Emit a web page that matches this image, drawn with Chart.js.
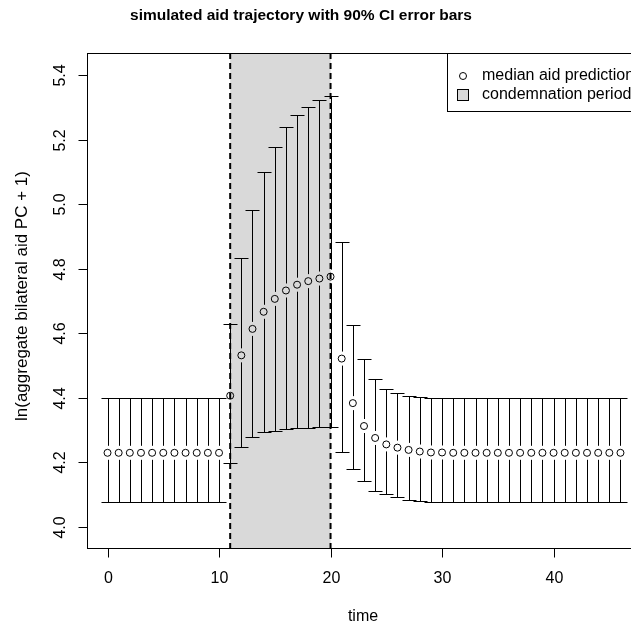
<!DOCTYPE html>
<html>
<head>
<meta charset="utf-8">
<script src="https://cdn.jsdelivr.net/npm/chart.js@4/dist/chart.umd.min.js"></script>
<style>
  html, body { margin: 0; padding: 0; background: #ffffff; overflow: hidden; }
  #wrap { width: 700px; height: 630px; }
</style>
</head>
<body>
<div id="wrap"><canvas id="c" width="700" height="630"></canvas></div>
<script>
// time steps 0..46
const timeSteps = [
  0, 1, 2, 3, 4, 5, 6, 7, 8, 9, 10,
  11, 12, 13, 14, 15, 16, 17, 18, 19, 20,
  21, 22, 23, 24, 25, 26, 27, 28, 29, 30,
  31, 32, 33, 34, 35, 36, 37, 38, 39, 40,
  41, 42, 43, 44, 45, 46
];

// median simulated aid, ln(aggregate bilateral aid PC + 1)
const medianAid = [
  4.230, 4.230, 4.230, 4.230, 4.230, 4.230, 4.230, 4.230, 4.230, 4.230, 4.230,
  4.407, 4.532, 4.614, 4.667, 4.707, 4.733, 4.751, 4.762, 4.770, 4.776,
  4.522, 4.384, 4.313, 4.276, 4.256, 4.246, 4.239, 4.234, 4.231, 4.231,
  4.230, 4.230, 4.230, 4.230, 4.230, 4.230, 4.230, 4.230, 4.230, 4.230,
  4.230, 4.230, 4.230, 4.230, 4.230, 4.230
];

// upper bound of the 90% interval
const upperCI = [
  4.399, 4.399, 4.399, 4.399, 4.399, 4.399, 4.399, 4.399, 4.399, 4.399, 4.399,
  4.629, 4.834, 4.983, 5.099, 5.178, 5.240, 5.277, 5.303, 5.322, 5.337,
  4.883, 4.625, 4.522, 4.460, 4.429, 4.414, 4.407, 4.403, 4.401, 4.399,
  4.399, 4.399, 4.399, 4.399, 4.399, 4.399, 4.399, 4.399, 4.399, 4.399,
  4.399, 4.399, 4.399, 4.399, 4.399, 4.399
];

// lower bound of the 90% interval
const lowerCI = [
  4.078, 4.078, 4.078, 4.078, 4.078, 4.078, 4.078, 4.078, 4.078, 4.078, 4.078,
  4.197, 4.249, 4.278, 4.293, 4.299, 4.303, 4.306, 4.308, 4.309, 4.311,
  4.234, 4.180, 4.143, 4.113, 4.101, 4.093, 4.085, 4.081, 4.079, 4.078,
  4.078, 4.078, 4.078, 4.078, 4.078, 4.078, 4.078, 4.078, 4.078, 4.078,
  4.078, 4.078, 4.078, 4.078, 4.078, 4.078
];

// condemnation period (start, end)
const condemnationPeriod = [11, 20];

const xTicks = [0, 10, 20, 30, 40];
const yTicks = [4.0, 4.2, 4.4, 4.6, 4.8, 5.0, 5.2, 5.4];

const titleText = 'simulated aid trajectory with 90% CI error bars';
const xTitle = 'time';
const yTitle = 'ln(aggregate bilateral aid PC + 1)';
const legendLabels = ['median aid prediction', 'condemnation period'];

const FONT = '"Liberation Sans", Arial, Helvetica, sans-serif';

const points = timeSteps.map((t, i) => ({ x: t, y: medianAid[i] }));

// shaded period and interval whiskers behind the points
const underlay = {
  id: 'underlay',
  beforeDatasetsDraw(chart) {
    const { ctx, chartArea: a, scales: { x, y } } = chart;
    ctx.save();
    ctx.beginPath();
    ctx.rect(a.left, a.top, a.right - a.left, a.bottom - a.top);
    ctx.clip();
    const x0 = x.getPixelForValue(condemnationPeriod[0]);
    const x1 = x.getPixelForValue(condemnationPeriod[1]);
    ctx.fillStyle = '#d9d9d9';
    ctx.fillRect(x0, a.top, x1 - x0, a.bottom - a.top);

    ctx.strokeStyle = '#000000';
    ctx.lineWidth = 1;
    const cap = 7, gap = 7;
    timeSteps.forEach((t, i) => {
      const px = Math.round(x.getPixelForValue(t)) + 0.5;
      const pm = y.getPixelForValue(medianAid[i]);
      const pu = Math.round(y.getPixelForValue(upperCI[i])) + 0.5;
      const pl = Math.round(y.getPixelForValue(lowerCI[i])) + 0.5;
      ctx.beginPath();
      ctx.moveTo(px, pm - gap); ctx.lineTo(px, pu);
      ctx.moveTo(px - cap, pu); ctx.lineTo(px + cap, pu);
      ctx.moveTo(px, pm + gap); ctx.lineTo(px, pl);
      ctx.moveTo(px - cap, pl); ctx.lineTo(px + cap, pl);
      ctx.stroke();
    });
    ctx.restore();
  }
};

// dashed period boundaries, frame, axes, titles and legend
const overlay = {
  id: 'overlay',
  afterDatasetsDraw(chart) {
    const { ctx, chartArea: a, scales: { x, y } } = chart;
    ctx.save();

    ctx.strokeStyle = '#000000';
    ctx.lineWidth = 2;
    ctx.setLineDash([6, 4]);
    condemnationPeriod.forEach(v => {
      const px = x.getPixelForValue(v);
      ctx.beginPath();
      ctx.moveTo(px, a.top);
      ctx.lineTo(px, a.bottom);
      ctx.stroke();
    });
    ctx.setLineDash([]);

    ctx.lineWidth = 1;
    const L = Math.round(a.left) + 0.5, R = Math.round(a.right) + 0.5;
    const T = Math.round(a.top) + 0.5, B = Math.round(a.bottom) + 0.5;
    ctx.strokeRect(L, T, R - L, B - T);

    ctx.fillStyle = '#000000';
    ctx.font = '16px ' + FONT;

    // x axis
    ctx.textAlign = 'center';
    ctx.textBaseline = 'middle';
    xTicks.forEach(v => {
      const px = Math.round(x.getPixelForValue(v)) + 0.5;
      ctx.beginPath();
      ctx.moveTo(px, B); ctx.lineTo(px, B + 9);
      ctx.stroke();
      ctx.fillText(String(v), px, 579);
    });

    // y axis (labels read upward)
    yTicks.forEach(v => {
      const py = Math.round(y.getPixelForValue(v)) + 0.5;
      ctx.beginPath();
      ctx.moveTo(L - 9, py); ctx.lineTo(L, py);
      ctx.stroke();
      ctx.save();
      ctx.translate(61, py);
      ctx.rotate(-Math.PI / 2);
      ctx.fillText(v.toFixed(1), 0, 0);
      ctx.restore();
    });

    ctx.fillText(xTitle, 363, 617);
    ctx.save();
    ctx.font = '17px ' + FONT;
    ctx.translate(22, 296);
    ctx.rotate(-Math.PI / 2);
    ctx.fillText(yTitle, 0, 0);
    ctx.restore();

    ctx.font = 'bold 15.5px ' + FONT;
    ctx.fillText(titleText, 301, 16);

    // legend
    const lx = 447.5, ly = 53.5, lh = 58;
    ctx.fillStyle = '#ffffff';
    ctx.fillRect(lx, ly, 300, lh);
    ctx.strokeRect(lx, ly, 300, lh);
    ctx.beginPath();
    ctx.arc(463, 76, 3.5, 0, Math.PI * 2);
    ctx.stroke();
    ctx.fillStyle = '#d9d9d9';
    ctx.fillRect(457.5, 89.5, 11, 11);
    ctx.strokeRect(457.5, 89.5, 11, 11);
    ctx.fillStyle = '#000000';
    ctx.font = '16px ' + FONT;
    ctx.textAlign = 'left';
    ctx.fillText(legendLabels[0], 482, 76);
    ctx.fillText(legendLabels[1], 482, 95);

    ctx.restore();
  }
};

new Chart(document.getElementById('c'), {
  type: 'scatter',
  data: {
    datasets: [{
      label: legendLabels[0],
      data: points,
      pointStyle: 'circle',
      pointRadius: 3.5,
      pointHoverRadius: 3.5,
      pointBorderWidth: 1,
      pointBorderColor: '#000000',
      pointBackgroundColor: 'rgba(0,0,0,0)',
      showLine: false
    }]
  },
  options: {
    responsive: false,
    devicePixelRatio: 1,
    animation: false,
    events: [],
    layout: { padding: { left: 87, right: 59, top: 53, bottom: 82 } },
    plugins: { legend: { display: false }, tooltip: { enabled: false }, title: { display: false } },
    scales: {
      x: { type: 'linear', min: -1.84, max: 47.84, display: false },
      y: { type: 'linear', min: 3.935, max: 5.469, display: false }
    }
  },
  plugins: [underlay, overlay]
});
</script>
</body>
</html>
